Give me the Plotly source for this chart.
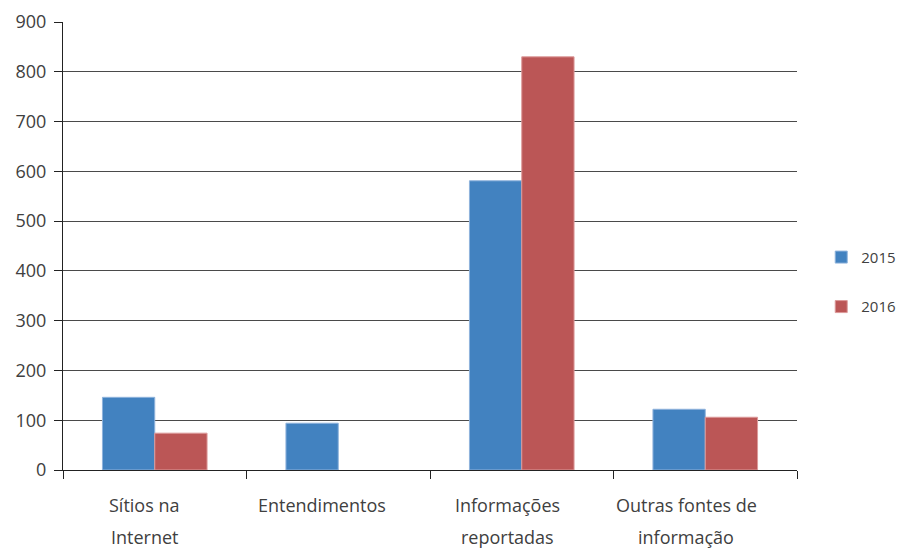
import plotly.graph_objects as go

categories = ["Sítios na Internet", "Entendimentos", "Informações reportadas", "Outras fontes de informação"]
label_lines = [["Sítios na", "Internet"], ["Entendimentos", ""], ["Informações", "reportadas"], ["Outras fontes de", "informação"]]
values_2015 = [146, 94, 581, 122]
values_2016 = [74, None, 830, 106]
y_ticks = [0, 100, 200, 300, 400, 500, 600, 700, 800, 900]

font_family = "Open Sans, Noto Sans, sans-serif"
text_color = "#404040"
label_xshift = [-10, -16, -14, -19]

fig = go.Figure()
fig.add_trace(go.Bar(
    x=categories, y=values_2015, name="2015", legendgroup="a",
    marker=dict(color="#4282c0", line=dict(color="#8fb3dc", width=1)),
))
fig.add_trace(go.Bar(
    x=categories, y=values_2016, name="2016", legendgroup="b",
    marker=dict(color="#bb5656", line=dict(color="#dc9a9a", width=1)),
))

# two-line category labels under the axis
for cat, lines, dx in zip(categories, label_lines, label_xshift):
    for i, line in enumerate(lines):
        if not line:
            continue
        fig.add_annotation(
            x=cat, y=0, xref="x", yref="y", text=line, showarrow=False,
            yshift=-35 - 32 * i, xshift=dx, xanchor="center", yanchor="middle",
            font=dict(family=font_family, size=18, color=text_color),
        )

fig.update_layout(
    width=898, height=548,
    margin=dict(l=63, r=101, t=22, b=78, autoexpand=False),
    paper_bgcolor="white", plot_bgcolor="white",
    barmode="group", bargap=0.43, bargroupgap=0,
    font=dict(family=font_family, size=16, color=text_color),
    legend=dict(
        x=1.033, y=0.42, xanchor="left", yanchor="middle",
        font=dict(size=15, color=text_color),
        tracegroupgap=27, itemwidth=30,
    ),
    showlegend=True,
)
fig.update_xaxes(
    type="category", showticklabels=False,
    tickson="boundaries", ticks="outside", ticklen=8, tickcolor="#222222", tickwidth=1,
    showline=True, linecolor="#222222", linewidth=1,
    showgrid=False, zeroline=False,
)
fig.update_yaxes(
    range=[0, 900], tickvals=y_ticks, ticks="outside", ticklen=8,
    tickcolor="#222222", tickwidth=1,
    showline=True, linecolor="#222222", linewidth=1,
    showgrid=True, gridcolor="#4a4a4a", gridwidth=1,
    zeroline=False, tickfont=dict(size=18, color=text_color),
    ticklabelstandoff=4,
)

fig.write_html("out.html")
